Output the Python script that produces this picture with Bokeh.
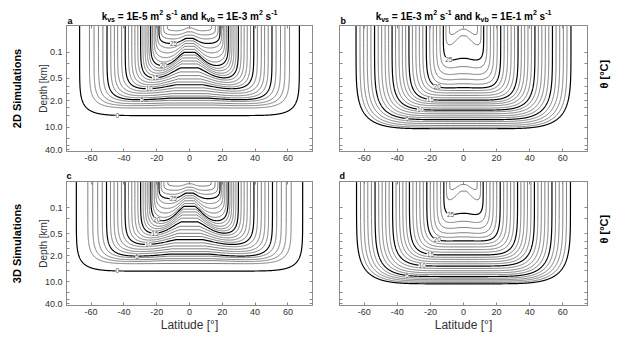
import numpy as np
from bokeh.plotting import figure
from bokeh.models import Range1d, FixedTicker, LinearAxis, LogAxis, Title, ColumnDataSource
from bokeh.layouts import gridplot
from bokeh.embed import file_html
from bokeh.resources import INLINE
from bokeh.core.properties import value

# ------------------------------------------------------------------ data
lat_ticks = [-60, -40, -20, 0, 20, 40, 60]
lat_tick_labels = ["-60", "-40", "-20", "0", "20", "40", "60"]
depth_ticks = [0.1, 0.5, 2.0, 10.0, 40.0]
depth_tick_labels = ["0.1", "0.5", "2.0", "10.0", "40.0"]
depth_minor_ticks = [0.2, 0.8, 1.3, 3.0, 5.0, 20.0, 30.0]
depth_top, depth_bottom = 0.0194, 44.5

levels_weak = list(range(29))      # theta levels, panels a and c
levels_strong = list(range(28))    # theta levels, panels b and d

# latitude (|deg|) where each isotherm outcrops at the surface
outcrop_a = [67, 61, 58.2, 55.5, 52.8, 50.3, 48.0, 45.8, 43.8, 41.4, 39.2, 37.2, 35.2, 33.3, 31.5,
             29.8, 28.4, 27.1, 25.9, 24.8, 23.7, 22.6, 21.6, 20.6, 19.6, 18.6, 17.4, 15.8, 13.5]
outcrop_c = [69, 62, 59, 56, 53.2, 50.6, 48.2, 46.0, 43.8, 41.5, 39.3, 37.2, 35.2, 33.3, 31.5,
             29.8, 28.3, 27.0, 25.8, 24.7, 23.6, 22.5, 21.5, 20.5, 19.5, 18.6, 17.3, 15.6, 13.2]
outcrop_b = [65, 62.6, 60.4, 58.2, 56.0, 53.8, 51.6, 49.5, 47.4, 45.3, 43.2, 41.1, 39.0, 37.0,
             35.0, 33.0, 30.9, 28.8, 26.7, 24.6, 22.5, 20.4, 18.3, 16.3, 14.2, 12.2, 10.6, 8.5]
outcrop_d = [64.7, 62.3, 60.1, 57.9, 55.7, 53.5, 51.3, 49.2, 47.1, 45.0, 42.9, 40.8, 38.7, 36.7,
             34.7, 32.7, 30.6, 28.5, 26.4, 24.3, 22.2, 20.1, 18.0, 16.0, 13.9, 11.9, 10.3, 8.3]

# depth (km) of each isotherm away from the equator
depth_off_a = [4.9, 3.1, 2.7, 2.4, 2.1, 1.9, 1.7, 1.5, 1.3, 1.15, 1.0, 0.9, 0.8, 0.7, 0.61,
               0.54, 0.47, 0.41, 0.35, 0.3, 0.25, 0.2, 0.15, 0.11, 0.08, 0.06, 0.045, 0.035, 0.027]
depth_off_c = [5.2, 3.3, 2.9, 2.6, 2.3, 2.1, 1.8, 1.6, 1.4, 1.2, 1.05, 0.93, 0.82, 0.72, 0.62,
               0.55, 0.48, 0.42, 0.36, 0.3, 0.25, 0.2, 0.15, 0.11, 0.08, 0.058, 0.044, 0.034, 0.026]
depth_off_b = [11.0, 10.0, 9.0, 8.0, 7.1, 6.3, 5.6, 5.0, 4.4, 3.9, 3.5, 3.1, 2.7, 2.4, 2.15,
               1.9, 1.65, 1.42, 1.22, 1.05, 0.9, 0.72, 0.55, 0.4, 0.27, 0.17, 0.075, 0.04]
depth_off_d = [11.5, 10.6, 9.7, 8.9, 8.1, 7.3, 6.5, 5.8, 5.1, 4.4, 3.8, 3.3, 2.9, 2.5, 2.2,
               1.9, 1.6, 1.36, 1.15, 0.96, 0.8, 0.64, 0.5, 0.37, 0.26, 0.16, 0.072, 0.038]

# depth (km) of each isotherm at the equator
depth_eq_a = [4.9, 3.0, 2.5, 2.2, 1.85, 1.6, 1.4, 1.2, 1.0, 0.83, 0.68, 0.57, 0.47, 0.38, 0.3,
              0.23, 0.18, 0.15, 0.125, 0.105, 0.09, 0.075, 0.063, 0.054, 0.047, 0.041, 0.034, 0.028, 0.022]
depth_eq_c = [5.2, 3.2, 2.6, 2.3, 1.95, 1.7, 1.45, 1.2, 1.0, 0.82, 0.66, 0.54, 0.44, 0.35, 0.28,
              0.21, 0.165, 0.135, 0.112, 0.095, 0.08, 0.068, 0.058, 0.05, 0.044, 0.038, 0.032, 0.027, 0.022]
depth_eq_b = [11.0, 10.0, 9.0, 8.0, 7.1, 6.3, 5.6, 5.0, 4.4, 3.9, 3.5, 3.1, 2.7, 2.4, 2.15,
              1.9, 1.65, 1.42, 1.22, 1.05, 0.88, 0.69, 0.52, 0.37, 0.24, 0.145, 0.035, 0.024]
depth_eq_d = [11.5, 10.6, 9.7, 8.9, 8.1, 7.3, 6.5, 5.8, 5.1, 4.4, 3.8, 3.3, 2.9, 2.5, 2.2,
              1.9, 1.6, 1.36, 1.15, 0.96, 0.78, 0.61, 0.47, 0.34, 0.23, 0.14, 0.034, 0.023]

# contour labels: latitude where the label sits, and which level
clabel_lat_a = [-44, -29, -24.5, -20.7, -15.8, -9.7]
clabel_lev_a = [0, 5, 10, 15, 20, 25]
clabel_lat_b = [-34, -26, -20, -15.9, -8.9]
clabel_lev_b = [5, 10, 15, 20, 25]
clabel_lat_c = [-44, -32, -25, -21, -20, -9.9]
clabel_lev_c = [0, 5, 10, 15, 20, 25]
clabel_lat_d = [-34, -25, -20, -15.9, -7.8]
clabel_lev_d = [5, 10, 15, 20, 25]

# title pieces: (text, main-size?, shift: 0 normal, -1 subscript, 1 superscript)
title_a = [("k", 1, 0), ("vs", 0, -1), (" = 1E-5 m", 1, 0), ("2", 0, 1), (" s", 1, 0), ("-1", 0, 1),
           (" and k", 1, 0), ("vb", 0, -1), (" = 1E-3 m", 1, 0), ("2", 0, 1), (" s", 1, 0), ("-1", 0, 1)]
title_b = [("k", 1, 0), ("vs", 0, -1), (" = 1E-3 m", 1, 0), ("2", 0, 1), (" s", 1, 0), ("-1", 0, 1),
           (" and k", 1, 0), ("vb", 0, -1), (" = 1E-1 m", 1, 0), ("2", 0, 1), (" s", 1, 0), ("-1", 0, 1)]

# ------------------------------------------------------------------ style
FONT = "Liberation Sans"
FRAME = "#8a8a8a"
TXT = "#333333"
TOP = np.log10(depth_top)
ADV = {' ': 278, '=': 584, '-': 333, '1': 556, '2': 556, '3': 556, '5': 556, 'E': 667, 'a': 556,
       'b': 611, 'd': 611, 'k': 556, 'm': 889, 'n': 611, 's': 556, 'v': 556}

FW_L, FW_R = 246, 248
FH_T, FH_B = 126, 124
BL_L, BR_L, BL_R, BR_R = 66, 14, 13, 30
TITLE_H = 25


def tw(t, size):
    return sum(ADV.get(ch, 556) for ch in t) * size / 1000.0


def curve(phi, d_off, d_eq, n, sigma, npts=600):
    t = np.linspace(0, np.pi, npts)
    c = np.cos(t)
    lat = phi * np.sign(c) * np.abs(c) ** (2.0 / n)
    s = np.abs(np.sin(t)) ** (2.0 / n)
    w = np.exp(-(lat / sigma) ** 2)
    logb = np.log10(d_off) + (np.log10(d_eq) - np.log10(d_off)) * w
    return lat, 10 ** (TOP + (logb - TOP) * s)


def depth_at(lat, phi, d_off, d_eq, n, sigma):
    r = min(abs(lat) / phi, 0.999)
    s = (1 - r ** n) ** (1.0 / n)
    w = np.exp(-(lat / sigma) ** 2)
    logb = np.log10(d_off) + (np.log10(d_eq) - np.log10(d_off)) * w
    return 10 ** (TOP + (logb - TOP) * s)


def hide_labels(ax):
    ax.major_label_text_font_size = "0px"
    ax.major_label_text_alpha = 0
    ax.major_label_standoff = 0


def make_panel(fw, fh, bl, br, bt, bb, ylabels):
    p = figure(frame_width=fw, frame_height=fh, min_border_left=bl, min_border_right=br,
               min_border_top=bt, min_border_bottom=bb,
               x_range=Range1d(-75, 75), y_range=Range1d(depth_bottom, depth_top),
               y_axis_type="log", output_backend="svg", toolbar_location=None, title=None)
    p.xgrid.visible = False
    p.ygrid.visible = False
    p.outline_line_color = FRAME
    p.background_fill_color = "white"
    p.border_fill_color = "white"
    xover = dict(zip(lat_ticks, lat_tick_labels))
    yover = dict(zip(depth_ticks, depth_tick_labels))
    for ax in p.xaxis:
        ax.ticker = FixedTicker(ticks=lat_ticks)
        ax.major_label_overrides = xover
        ax.major_label_text_font = FONT
        ax.major_label_text_font_size = "9px"
        ax.major_label_text_color = TXT
        ax.major_label_standoff = 3
    for ax in p.yaxis:
        ax.ticker = FixedTicker(ticks=depth_ticks, minor_ticks=depth_minor_ticks)
        ax.major_label_overrides = yover
        ax.major_label_text_font = FONT
        ax.major_label_text_color = TXT
        ax.major_label_standoff = 4
        ax.major_label_text_font_size = "9px"
        if not ylabels:
            hide_labels(ax)
    top_ax = LinearAxis(ticker=FixedTicker(ticks=lat_ticks))
    right_ax = LogAxis(ticker=FixedTicker(ticks=depth_ticks, minor_ticks=depth_minor_ticks))
    hide_labels(top_ax)
    hide_labels(right_ax)
    p.add_layout(top_ax, "above")
    p.add_layout(right_ax, "right")
    for ax in list(p.xaxis) + list(p.yaxis):
        ax.major_tick_in = 3
        ax.major_tick_out = 0
        ax.minor_tick_in = 3
        ax.minor_tick_out = 0
        ax.minor_tick_line_color = FRAME
        ax.axis_line_color = FRAME
        ax.major_tick_line_color = FRAME
    return p


def draw_contours(p, levels, outcrop, d_off, d_eq, nfun, sfun, lab_lat, lab_lev):
    thin = dict(xs=[], ys=[])
    bold = dict(xs=[], ys=[])
    for i, lev in enumerate(levels):
        x, y = curve(outcrop[i], d_off[i], d_eq[i], nfun(lev), sfun(lev))
        tgt = bold if lev % 5 == 0 else thin
        tgt["xs"].append(x.tolist())
        tgt["ys"].append(y.tolist())
    p.multi_line(xs="xs", ys="ys", source=ColumnDataSource(thin), line_color="#2b2b2b", line_width=0.6)
    p.multi_line(xs="xs", ys="ys", source=ColumnDataSource(bold), line_color="black", line_width=1.2)
    ly = []
    for la, lv in zip(lab_lat, lab_lev):
        i = levels.index(lv)
        ly.append(depth_at(la, outcrop[i], d_off[i], d_eq[i], nfun(lv), sfun(lv)))
    src = ColumnDataSource(dict(x=lab_lat, y=ly, t=[str(v) for v in lab_lev]))
    p.text(x="x", y="y", text="t", source=src, text_font=value(FONT), text_font_size="6.5px",
           text_color="#555555", text_align="center", text_baseline="middle",
           background_fill_color="white")


def make_title_fig(fw, bl, br, pieces, letter):
    t = figure(frame_width=fw, frame_height=TITLE_H, min_border_left=bl, min_border_right=br,
               min_border_top=0, min_border_bottom=0, x_range=Range1d(0, fw), y_range=Range1d(0, TITLE_H),
               x_axis_location=None, y_axis_location=None, output_backend="svg",
               toolbar_location=None, title=None)
    t.outline_line_color = None
    t.xgrid.visible = False
    t.ygrid.visible = False
    S, s = 10, 7
    sizes = [S if big else s for _, big, _ in pieces]
    tot = sum(tw(tx, sz) for (tx, _, _), sz in zip(pieces, sizes))
    x = fw / 2.0 - tot / 2.0
    big = dict(x=[], y=[], t=[])
    small = dict(x=[], y=[], t=[])
    for (tx, isbig, dy), sz in zip(pieces, sizes):
        lead = len(tx) - len(tx.lstrip(" "))
        ybase = {0: 9.0, -1: 6.5, 1: 12.8}[dy]
        tgt = big if isbig else small
        tgt["x"].append(x + tw(" " * lead, sz))
        tgt["y"].append(ybase)
        tgt["t"].append(tx.strip(" "))
        x += tw(tx, sz)
    for src, sz in ((big, "10px"), (small, "7px")):
        t.text(x="x", y="y", text="t", source=ColumnDataSource(src), text_font=value(FONT),
               text_font_size=sz, text_font_style="bold", text_color="black",
               text_align="left", text_baseline="alphabetic")
    t.text(x=[1.0], y=[4.5], text=[letter], text_font=value(FONT), text_font_size="9px",
           text_font_style="bold", text_color="black", text_align="left", text_baseline="alphabetic")
    return t


def add_left_labels(p, rowname):
    ax = p.left[0]
    ax.axis_label = "Depth [km]"
    ax.axis_label_text_font = FONT
    ax.axis_label_text_font_size = "10px"
    ax.axis_label_text_font_style = "normal"
    ax.axis_label_text_color = TXT
    ax.axis_label_standoff = -7
    lab_ax = LinearAxis(ticker=FixedTicker(ticks=[]), axis_line_color=None, major_tick_line_color=None,
                        minor_tick_line_color=None, axis_label=rowname, axis_label_text_font=FONT,
                        axis_label_text_font_size="11px", axis_label_text_font_style="bold",
                        axis_label_text_color="black", axis_label_standoff=12)
    hide_labels(lab_ax)
    p.add_layout(lab_ax, "left")


def add_theta(p):
    ax = p.right[0]
    ax.axis_label = "θ [°C]"
    ax.axis_label_text_font = FONT
    ax.axis_label_text_font_size = "11px"
    ax.axis_label_text_font_style = "bold"
    ax.axis_label_text_color = "black"
    ax.axis_label_standoff = 16
    if "axis_label_orientation" in ax.properties():
        ax.axis_label_orientation = np.pi / 2


def add_xlabel(p):
    ax = p.below[0]
    ax.axis_label = "Latitude [°]"
    ax.axis_label_text_font = FONT
    ax.axis_label_text_font_size = "12px"
    ax.axis_label_text_font_style = "normal"
    ax.axis_label_text_color = TXT
    ax.axis_label_standoff = 0


def add_letter(p, letter):
    p.add_layout(Title(text=letter, align="left", text_font=FONT, text_font_size="9px",
                       text_font_style="bold", text_color="black", standoff=1, offset=0), "above")


n_weak = lambda T: 9.0 - 4.0 * T / 28.0
s_weak = lambda T: 24.0 - 0.72 * T
n_strong = lambda T: 6.0
s_strong = lambda T: 6.0

ta = make_title_fig(FW_L, BL_L, BR_L, title_a, "a")
tb = make_title_fig(FW_R, BL_R, BR_R, title_b, "b")
pa = make_panel(FW_L, FH_T, BL_L, BR_L, 0, 16, True)
pb = make_panel(FW_R, FH_T, BL_R, BR_R, 0, 16, False)
pc = make_panel(FW_L, FH_B, BL_L, BR_L, 14, 32, True)
pd = make_panel(FW_R, FH_B, BL_R, BR_R, 14, 32, False)

draw_contours(pa, levels_weak, outcrop_a, depth_off_a, depth_eq_a, n_weak, s_weak, clabel_lat_a, clabel_lev_a)
draw_contours(pb, levels_strong, outcrop_b, depth_off_b, depth_eq_b, n_strong, s_strong, clabel_lat_b, clabel_lev_b)
draw_contours(pc, levels_weak, outcrop_c, depth_off_c, depth_eq_c, n_weak, s_weak, clabel_lat_c, clabel_lev_c)
draw_contours(pd, levels_strong, outcrop_d, depth_off_d, depth_eq_d, n_strong, s_strong, clabel_lat_d, clabel_lev_d)

add_left_labels(pa, "2D Simulations")
add_left_labels(pc, "3D Simulations")
add_theta(pb)
add_theta(pd)
add_xlabel(pc)
add_xlabel(pd)
add_letter(pc, "c")
add_letter(pd, "d")

grid = gridplot([[ta, tb], [pa, pb], [pc, pd]], toolbar_location=None)
open("out.html", "w").write(file_html(grid, INLINE))
